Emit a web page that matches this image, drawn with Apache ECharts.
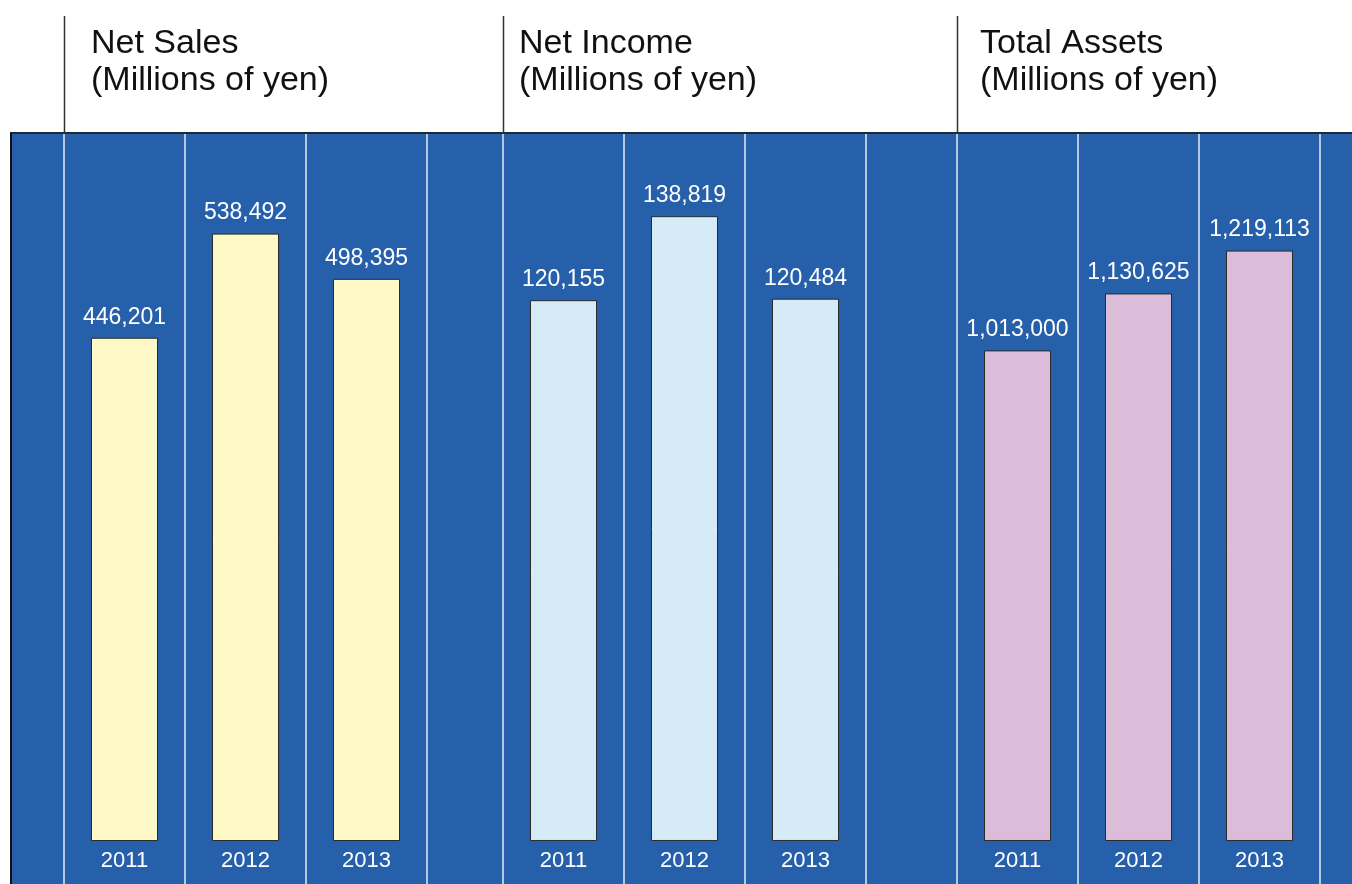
<!DOCTYPE html>
<html>
<head>
<meta charset="utf-8">
<script src="https://cdn.jsdelivr.net/npm/echarts@6/dist/echarts.min.js"></script>
<style>
  html, body { margin: 0; padding: 0; background: #fff; }
  #chart { width: 1352px; height: 884px; }
</style>
</head>
<body>
<div id="chart"></div>
<script>
// data
var years = ['2011', '2012', '2013'];
var netSales = [446201, 538492, 498395];
var netIncome = [120155, 138819, 120484];
var totalAssets = [1013000, 1130625, 1219113];
var panelTitles = ['Net Sales\n(Millions of yen)', 'Net Income\n(Millions of yen)', 'Total Assets\n(Millions of yen)'];
// value ranges of the hidden y axes (min, max)
var salesRange = [-38100, 627700];
var incomeRange = [-9560, 157300];
var assetsRange = [-88800, 1461900];

var chart = echarts.init(document.getElementById('chart'));

var FONT = '"Liberation Sans", Arial, sans-serif';
var blue = '#2660ab';
var barColors = ['#fef9c6', '#d6ebf8', '#dbbdda'];
var gridLefts = [64, 503, 957];
var titleLefts = [91, 519, 980];
var ranges = [salesRange, incomeRange, assetsRange];
var seriesData = [netSales, netIncome, totalAssets];

var grids = [], xAxes = [], yAxes = [], series = [], titles = [];

for (var i = 0; i < 3; i++) {
    grids.push({
        left: gridLefts[i], width: 363, top: 133, bottom: 0,
        containLabel: false, outerBoundsMode: 'none'
    });
    // axis sits on the zero line, 43px above the bottom of the blue panel
    xAxes.push({
        type: 'category',
        gridIndex: i,
        data: years,
        position: 'bottom',
        offset: -43,
        axisLine: { show: false, onZero: false },
        axisTick: { show: false },
        axisLabel: { color: '#fff', fontSize: 22, fontFamily: FONT, margin: 9 },
        splitLine: { show: true, lineStyle: { color: '#e4ebf5', width: 1.5 } }
    });
    yAxes.push({
        type: 'value',
        gridIndex: i,
        show: false,
        min: ranges[i][0],
        max: ranges[i][1],
        splitLine: { show: false }
    });
    series.push({
        type: 'bar',
        xAxisIndex: i,
        yAxisIndex: i,
        data: seriesData[i],
        barWidth: 67,
        itemStyle: { color: barColors[i], borderColor: '#2a2a2a', borderWidth: 1 },
        label: {
            show: true,
            position: 'top',
            distance: 9,
            color: '#fff',
            fontSize: 23,
            fontFamily: FONT,
            formatter: function (p) { return echarts.format.addCommas(p.value); }
        },
        silent: true
    });
    titles.push({
        text: panelTitles[i],
        left: titleLefts[i],
        top: 25,
        padding: 0,
        textStyle: { fontSize: 34, lineHeight: 37, fontWeight: 'normal', color: '#111', fontFamily: FONT }
    });
}

var option = {
    backgroundColor: '#fff',
    animation: false,
    title: titles,
    grid: grids,
    xAxis: xAxes,
    yAxis: yAxes,
    series: series,
    graphic: [
        { type: 'rect', z: -10, shape: { x: 11, y: 133, width: 1341, height: 751 }, style: { fill: blue } },
        { type: 'line', z: 100, shape: { x1: 10, y1: 133, x2: 1352, y2: 133 }, style: { stroke: '#1e2a3a', lineWidth: 2 } },
        { type: 'line', z: 100, shape: { x1: 11, y1: 133, x2: 11, y2: 884 }, style: { stroke: '#111', lineWidth: 2 } },
        { type: 'line', z: 100, shape: { x1: 64.5, y1: 16, x2: 64.5, y2: 133 }, style: { stroke: '#333', lineWidth: 1.5 } },
        { type: 'line', z: 100, shape: { x1: 503.5, y1: 16, x2: 503.5, y2: 133 }, style: { stroke: '#333', lineWidth: 1.5 } },
        { type: 'line', z: 100, shape: { x1: 957.5, y1: 16, x2: 957.5, y2: 133 }, style: { stroke: '#333', lineWidth: 1.5 } }
    ]
};

chart.setOption(option);
</script>
</body>
</html>
